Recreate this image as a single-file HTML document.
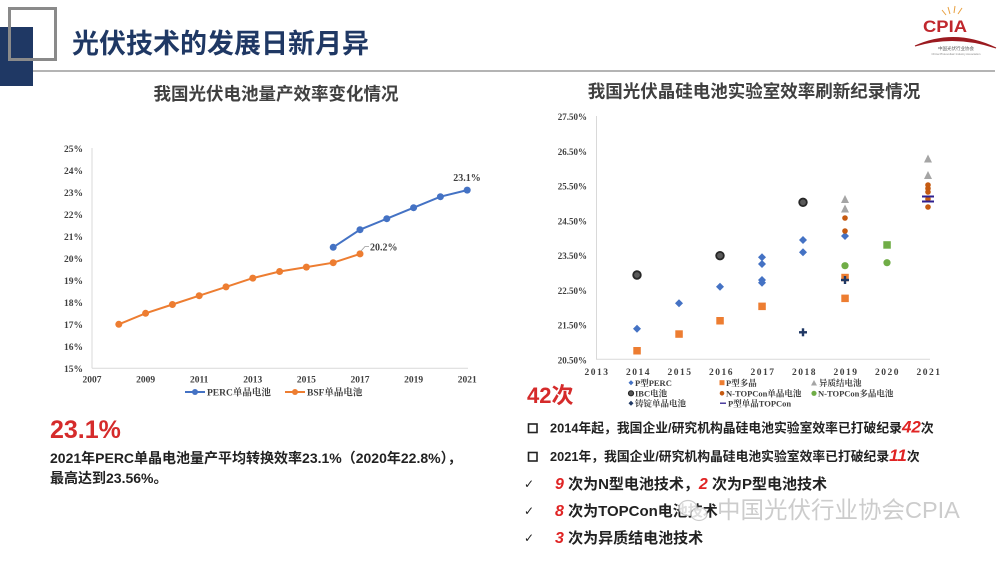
<!DOCTYPE html>
<html><head><meta charset="utf-8"><style>
html,body{margin:0;padding:0;background:#fff;}
svg{display:block;}
.cj{font-family:"Liberation Sans","Noto Sans CJK SC",sans-serif;font-weight:bold;}
.sf{font-family:"Liberation Serif","Noto Serif CJK SC","Noto Sans CJK SC",serif;font-weight:bold;fill:#404040;}
</style></head><body>
<svg width="1000" height="562" viewBox="0 0 1000 562" xmlns="http://www.w3.org/2000/svg">
<rect width="1000" height="562" fill="#fff"/>
<!-- header decoration -->
<rect x="0" y="27" width="33" height="59" fill="#1f3864"/>
<rect x="9.5" y="8.5" width="46" height="51" fill="none" stroke="#8a8a8a" stroke-width="3"/>
<line x1="33" y1="71" x2="995" y2="71" stroke="#9c9c9c" stroke-width="1.6"/>
<text x="72" y="53" class="cj" font-size="27" fill="#1f3864">光伏技术的发展日新月异</text>
<!-- CPIA logo -->
<g>
<line x1="950" y1="14" x2="948" y2="7" stroke="#e8a040" stroke-width="1"/>
<line x1="954" y1="13" x2="955" y2="6" stroke="#e8a040" stroke-width="1"/>
<line x1="958" y1="14" x2="962" y2="8" stroke="#e8a040" stroke-width="1"/>
<line x1="946" y1="15" x2="942" y2="10" stroke="#e8a040" stroke-width="1"/>
<text x="923" y="32" font-family="Liberation Sans,sans-serif" font-weight="bold" font-size="17" fill="#c0272d" textLength="44" lengthAdjust="spacingAndGlyphs">CPIA</text>
<path d="M915,46 Q955,28 996,48 Q955,34 915,46 Z" fill="#9b1b20" stroke="#9b1b20" stroke-width="1"/>
<text x="956" y="50" text-anchor="middle" font-family="Noto Sans CJK SC,sans-serif" font-size="4.5" fill="#555">中国光伏行业协会</text>
<text x="956" y="55" text-anchor="middle" font-family="Liberation Sans,sans-serif" font-size="2.8" fill="#888">China Photovoltaic Industry Association</text>
</g>
<!-- subtitles -->
<text x="276" y="100" text-anchor="middle" class="cj" font-size="17.5" fill="#404040">我国光伏电池量产效率变化情况</text>
<text x="754" y="97.5" text-anchor="middle" class="cj" font-size="17.5" fill="#404040">我国光伏晶硅电池实验室效率刷新纪录情况</text>

<!-- LEFT CHART -->
<line x1="92" y1="148" x2="92" y2="368.3" stroke="#d9d9d9" stroke-width="1"/>
<line x1="92" y1="368.3" x2="468" y2="368.3" stroke="#d9d9d9" stroke-width="1"/>
<g class="sf" font-size="9.5" text-anchor="end">
<text x="83" y="151.8">25%</text>
<text x="83" y="173.8">24%</text>
<text x="83" y="195.8">23%</text>
<text x="83" y="217.8">22%</text>
<text x="83" y="239.8">21%</text>
<text x="83" y="261.8">20%</text>
<text x="83" y="283.8">19%</text>
<text x="83" y="305.8">18%</text>
<text x="83" y="327.8">17%</text>
<text x="83" y="349.8">16%</text>
<text x="83" y="371.8">15%</text>
</g>
<g class="sf" font-size="9.5" text-anchor="middle">
<text x="92" y="382.5">2007</text>
<text x="145.6" y="382.5">2009</text>
<text x="199.2" y="382.5">2011</text>
<text x="252.8" y="382.5">2013</text>
<text x="306.4" y="382.5">2015</text>
<text x="360" y="382.5">2017</text>
<text x="413.6" y="382.5">2019</text>
<text x="467.2" y="382.5">2021</text>
</g>
<polyline points="118.8,324.3 145.6,313.3 172.4,304.5 199.2,295.7 226,286.9 252.8,278.1 279.6,271.5 306.4,267.1 333.2,262.7 360,253.9" fill="none" stroke="#ed7d31" stroke-width="2"/>
<g fill="#ed7d31">
<circle cx="118.8" cy="324.3" r="3.5"/><circle cx="145.6" cy="313.3" r="3.5"/><circle cx="172.4" cy="304.5" r="3.5"/><circle cx="199.2" cy="295.7" r="3.5"/><circle cx="226" cy="286.9" r="3.5"/><circle cx="252.8" cy="278.1" r="3.5"/><circle cx="279.6" cy="271.5" r="3.5"/><circle cx="306.4" cy="267.1" r="3.5"/><circle cx="333.2" cy="262.7" r="3.5"/><circle cx="360" cy="253.9" r="3.5"/>
</g>
<polyline points="333.2,247.3 360,229.7 386.8,218.7 413.6,207.7 440.4,196.7 467.2,190.1" fill="none" stroke="#4472c4" stroke-width="2"/>
<g fill="#4472c4">
<circle cx="333.2" cy="247.3" r="3.5"/><circle cx="360" cy="229.7" r="3.5"/><circle cx="386.8" cy="218.7" r="3.5"/><circle cx="413.6" cy="207.7" r="3.5"/><circle cx="440.4" cy="196.7" r="3.5"/><circle cx="467.2" cy="190.1" r="3.5"/>
</g>
<text x="467" y="181" text-anchor="middle" class="sf" font-size="10">23.1%</text>
<polyline points="361,251 365,246.5 369,246.5" fill="none" stroke="#999" stroke-width="0.8"/>
<text x="370" y="250.5" class="sf" font-size="10">20.2%</text>
<!-- legend left -->
<line x1="185" y1="392" x2="205" y2="392" stroke="#4472c4" stroke-width="2"/><circle cx="195" cy="392" r="3" fill="#4472c4"/>
<text x="207" y="395.5" class="sf" font-size="9.5">PERC单晶电池</text>
<line x1="285" y1="392" x2="305" y2="392" stroke="#ed7d31" stroke-width="2"/><circle cx="295" cy="392" r="3" fill="#ed7d31"/>
<text x="307" y="395.5" class="sf" font-size="9.5">BSF单晶电池</text>

<!-- RIGHT CHART -->
<line x1="596.5" y1="116" x2="596.5" y2="359.3" stroke="#d9d9d9" stroke-width="1"/>
<line x1="596" y1="359.3" x2="930" y2="359.3" stroke="#d9d9d9" stroke-width="1"/>
<g class="sf" font-size="9" text-anchor="end">
<text x="587" y="120">27.50%</text>
<text x="587" y="154.8">26.50%</text>
<text x="587" y="189.5">25.50%</text>
<text x="587" y="224.3">24.50%</text>
<text x="587" y="259">23.50%</text>
<text x="587" y="293.8">22.50%</text>
<text x="587" y="328.6">21.50%</text>
<text x="587" y="363.3">20.50%</text>
</g>
<g class="sf" font-size="9.5" text-anchor="middle" letter-spacing="1.5">
<text x="597" y="375">2013</text>
<text x="638.5" y="375">2014</text>
<text x="680" y="375">2015</text>
<text x="721.5" y="375">2016</text>
<text x="763" y="375">2017</text>
<text x="804.5" y="375">2018</text>
<text x="846" y="375">2019</text>
<text x="887.5" y="375">2020</text>
<text x="929" y="375">2021</text>
</g>
<!-- squares P型多晶 -->
<g fill="#ed7d31">
<rect x="633.3" y="347" width="7.5" height="7.5"/>
<rect x="675.3" y="330.3" width="7.5" height="7.5"/>
<rect x="716.3" y="317" width="7.5" height="7.5"/>
<rect x="758.3" y="302.6" width="7.5" height="7.5"/>
<rect x="841.3" y="273.8" width="7.5" height="7.5"/>
<rect x="841.3" y="294.6" width="7.5" height="7.5"/>
</g>
<!-- diamonds P型PERC -->
<g fill="#4472c4">
<polygon points="637,324.7 641,328.7 637,332.7 633,328.7"/>
<polygon points="679,299.3 683,303.3 679,307.3 675,303.3"/>
<polygon points="720,282.7 724,286.7 720,290.7 716,286.7"/>
<polygon points="762,253.3 766,257.3 762,261.3 758,257.3"/>
<polygon points="762,260 766,264 762,268 758,264"/>
<polygon points="762,276 766,280 762,284 758,280"/>
<polygon points="762,278.7 766,282.7 762,286.7 758,282.7"/>
<polygon points="803,236 807,240 803,244 799,240"/>
<polygon points="803,248.3 807,252.3 803,256.3 799,252.3"/>
<polygon points="845,232 849,236 845,240 841,236"/>
</g>
<!-- IBC -->
<g fill="#5a5a5a" stroke="#262626" stroke-width="1.8">
<circle cx="637" cy="275" r="3.8"/>
<circle cx="720" cy="255.7" r="3.8"/>
<circle cx="803" cy="202.3" r="3.8"/>
</g>
<!-- triangles 异质结 -->
<g fill="#a5a5a5">
<polygon points="845,195 849,203 841,203"/>
<polygon points="845,204.5 849,212.5 841,212.5"/>
<polygon points="928,154.5 932,162.5 924,162.5"/>
<polygon points="928,171 932,179 924,179"/>
</g>
<!-- N-TOPCon mono -->
<g fill="#c55a11">
<circle cx="845" cy="218" r="2.8"/>
<circle cx="845" cy="231" r="2.8"/>
<circle cx="928" cy="185" r="2.8"/>
<circle cx="928" cy="188.5" r="2.8"/>
<circle cx="928" cy="192" r="2.8"/>
<circle cx="928" cy="199" r="2.8"/>
<circle cx="928" cy="207" r="2.8"/>
</g>
<!-- N-TOPCon multi -->
<g fill="#70ad47">
<circle cx="845" cy="265.7" r="3.6"/>
<rect x="883.3" y="241.2" width="7.5" height="7.5"/>
<circle cx="887" cy="262.7" r="3.6"/>
</g>
<!-- 铸锭单晶 crosses -->
<g stroke="#203864" stroke-width="2.4">
<line x1="799" y1="332.3" x2="807" y2="332.3"/><line x1="803" y1="328.3" x2="803" y2="336.3"/>
<line x1="841" y1="280" x2="849" y2="280"/><line x1="845" y1="276" x2="845" y2="284"/>
</g>
<!-- P型单晶TOPCon dashes -->
<g stroke="#2e1f8f" stroke-width="2">
<line x1="922" y1="196.5" x2="934" y2="196.5"/>
<line x1="922" y1="201.5" x2="934" y2="201.5"/>
</g>
<!-- right legend -->
<g class="sf" font-size="8.5">
<polygon points="631,380.2 633.5,382.7 631,385.2 628.5,382.7" fill="#4472c4"/>
<text x="635" y="386">P型PERC</text>
<rect x="719.5" y="380.2" width="5" height="5" fill="#ed7d31"/>
<text x="726" y="386">P型多晶</text>
<polygon points="814,380 817,385.5 811,385.5" fill="#a5a5a5"/>
<text x="819" y="386">异质结电池</text>
<circle cx="631" cy="393.3" r="2.6" fill="#555" stroke="#222" stroke-width="1"/>
<text x="635" y="396.5">IBC电池</text>
<circle cx="722" cy="393.3" r="2.3" fill="#c55a11"/>
<text x="726" y="396.5">N-TOPCon单晶电池</text>
<circle cx="814" cy="393.3" r="2.6" fill="#70ad47"/>
<text x="818" y="396.5">N-TOPCon多晶电池</text>
<polygon points="631,400.7 633.5,403.2 631,405.7 628.5,403.2" fill="#203864"/>
<text x="635" y="406.5">铸锭单晶电池</text>
<line x1="720" y1="403.2" x2="726" y2="403.2" stroke="#2e1f8f" stroke-width="1.3"/>
<text x="728" y="406.5">P型单晶TOPCon</text>
</g>
<text x="527" y="403" class="cj" font-size="22" fill="#d52b2b">42次</text>

<!-- LEFT BOTTOM TEXT -->
<text x="50" y="438" font-family="Liberation Sans,sans-serif" font-weight="bold" font-size="25" fill="#d52b2b">23.1%</text>
<text x="50" y="463" class="cj" font-size="14" fill="#222">2021年PERC单晶电池量产平均转换效率23.1%（2020年22.8%），</text>
<text x="50" y="483" class="cj" font-size="14" fill="#222">最高达到23.56%。</text>

<!-- RIGHT BOTTOM TEXT -->
<rect x="528.5" y="424" width="8.5" height="8.5" fill="none" stroke="#222" stroke-width="1.6"/>
<text x="550" y="432.5" class="cj" font-size="12.8" fill="#222">2014年起，我国企业/研究机构晶硅电池实验室效率已打破纪录<tspan font-size="17" font-style="italic" fill="#e02424">42</tspan>次</text>
<rect x="528.5" y="452.5" width="8.5" height="8.5" fill="none" stroke="#222" stroke-width="1.6"/>
<text x="550" y="461" class="cj" font-size="12.8" fill="#222">2021年，我国企业/研究机构晶硅电池实验室效率已打破纪录<tspan font-size="17" font-style="italic" fill="#e02424">11</tspan>次</text>
<g font-family="DejaVu Sans,sans-serif" font-size="12" fill="#222">
<text x="524" y="488">✓</text>
<text x="524" y="515">✓</text>
<text x="524" y="542">✓</text>
</g>
<text x="555" y="489" class="cj" font-size="15" fill="#222"><tspan font-size="16" font-style="italic" fill="#e02424">9</tspan> 次为N型电池技术，<tspan font-size="16" font-style="italic" fill="#e02424">2</tspan> 次为P型电池技术</text>
<text x="555" y="516" class="cj" font-size="15" fill="#222"><tspan font-size="16" font-style="italic" fill="#e02424">8</tspan> 次为TOPCon电池技术</text>
<text x="555" y="543" class="cj" font-size="15" fill="#222"><tspan font-size="16" font-style="italic" fill="#e02424">3</tspan> 次为异质结电池技术</text>
<!-- watermark -->
<g opacity="0.85">
<ellipse cx="688" cy="508" rx="9" ry="7.5" fill="#fff" stroke="#c4c4c4" stroke-width="1.2"/>
<ellipse cx="699" cy="514" rx="8" ry="6.5" fill="#fff" stroke="#c4c4c4" stroke-width="1.2"/>
<text x="717" y="518" font-family="Liberation Sans,Noto Sans CJK SC,sans-serif" font-size="23.5" fill="#c4c4c4">中国光伏行业协会CPIA</text>
</g>
</svg>
</body></html>
